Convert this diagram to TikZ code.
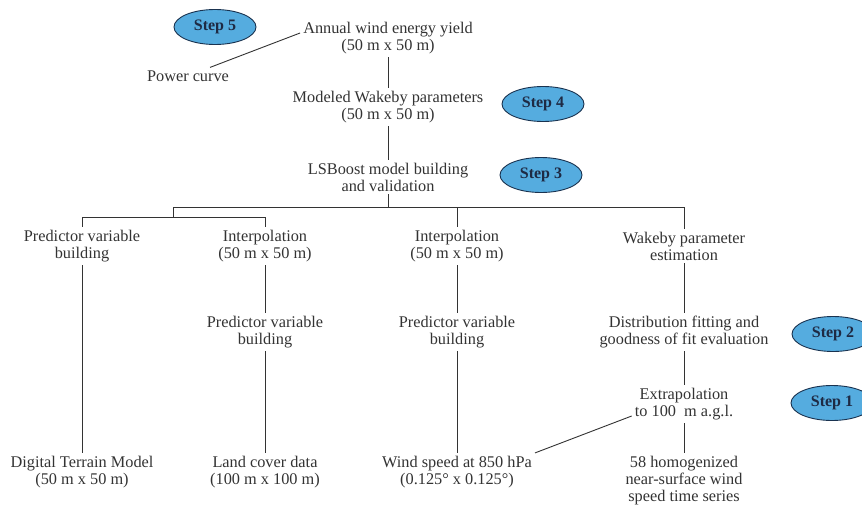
\documentclass[tikz,border=0pt]{standalone}
\usepackage{fontspec}
\setmainfont{Liberation Serif}
\usetikzlibrary{shapes.geometric,calc}
\definecolor{stepfill}{HTML}{55ACDF}
\definecolor{stepdraw}{HTML}{1A3350}
\definecolor{steptext}{HTML}{1E2A44}
\definecolor{linec}{HTML}{333333}
\definecolor{textc}{HTML}{333333}
\begin{document}
\begin{tikzpicture}[x=1pt,y=-1pt,
  lbl/.style={align=center,inner sep=3pt,text=textc,font=\fontsize{16.3}{17}\selectfont},
  stepell/.style={ellipse,draw=stepdraw,line width=0.9pt,fill=stepfill,minimum width=82pt,minimum height=35pt,inner sep=0pt,text=steptext,font=\fontsize{16}{16}\selectfont\bfseries},
  conn/.style={draw=linec,line width=0.9pt}]
\useasboundingbox (0,0) rectangle (862,506);
\fill[white] (0,0) rectangle (862,506);
% top column
\node[lbl] (ann) at (388,38) {Annual wind energy yield\\(50 m x 50 m)};
\node[lbl] (pc) at (188,76) {Power curve};
\node[lbl] (mod) at (388,107) {Modeled Wakeby parameters\\(50 m x 50 m)};
\node[lbl] (lsb) at (388,177) {LSBoost model building\\and validation};
% steps
\node[stepell] (s5) at (215,27) {Step 5};
\node[stepell] (s4) at (543,104) {Step 4};
\node[stepell] (s3) at (541,175) {Step 3};
\node[stepell] (s2) at (833,334) {Step 2};
\node[stepell] (s1) at (832,403) {Step 1};
% row 2
\node[lbl] (pv1) at (82,246) {Predictor variable\\building};
\node[lbl] (int1) at (265,246) {Interpolation\\(50 m x 50 m)};
\node[lbl] (int2) at (457,246) {Interpolation\\(50 m x 50 m)};
\node[lbl] (wpe) at (684,246) {Wakeby parameter\\estimation};
% row 3
\node[lbl] (pv2) at (265,332) {Predictor variable\\building};
\node[lbl] (pv3) at (457,332) {Predictor variable\\building};
\node[lbl] (dfit) at (684,332) {Distribution fitting and\\goodness of fit evaluation};
\node[lbl] (ext) at (684,404) {Extrapolation\\to 100\ \ m a.g.l.};
% bottom row
\node[lbl] (dtm) at (82,472) {Digital Terrain Model\\(50 m x 50 m)};
\node[lbl] (lcd) at (265,472) {Land cover data\\(100 m x 100 m)};
\node[lbl] (wsp) at (457,472) {Wind speed at 850 hPa\\(0.125° x 0.125°)};
\node[lbl] (hom) at (684,481) {58 homogenized\\near-surface wind\\speed time series};
% connectors
\draw[conn] ($(pc.north)!0.5!(pc.north east)$) -- ([yshift=5pt]ann.west);
\draw[conn] (ann) -- (mod);
\draw[conn] (mod) -- (lsb);
\coordinate (j0) at (388,207);
\coordinate (jl) at (173,207);
\coordinate (jr) at (684,207);
\coordinate (jm) at (457,207);
\coordinate (k0) at (173,217);
\coordinate (k1) at (82,217);
\coordinate (k2) at (265,217);
\draw[conn] (lsb) -- (j0);
\draw[conn] (jl) -- (jr) -- (wpe);
\draw[conn] (jm) -- (int2);
\draw[conn] (jl) -- (k0);
\draw[conn] (k1) -- (k2);
\draw[conn] (k1) -- (pv1);
\draw[conn] (k2) -- (int1);
\draw[conn] (pv1) -- (dtm);
\draw[conn] (int1) -- (pv2);
\draw[conn] (pv2) -- (lcd);
\draw[conn] (int2) -- (pv3);
\draw[conn] (pv3) -- (wsp);
\draw[conn] (wpe) -- (dfit);
\draw[conn] (dfit) -- (ext);
\draw[conn] (ext) -- (hom);
\draw[conn] (wsp.north east) -- ([yshift=-12pt]ext.west);
\end{tikzpicture}
\end{document}
